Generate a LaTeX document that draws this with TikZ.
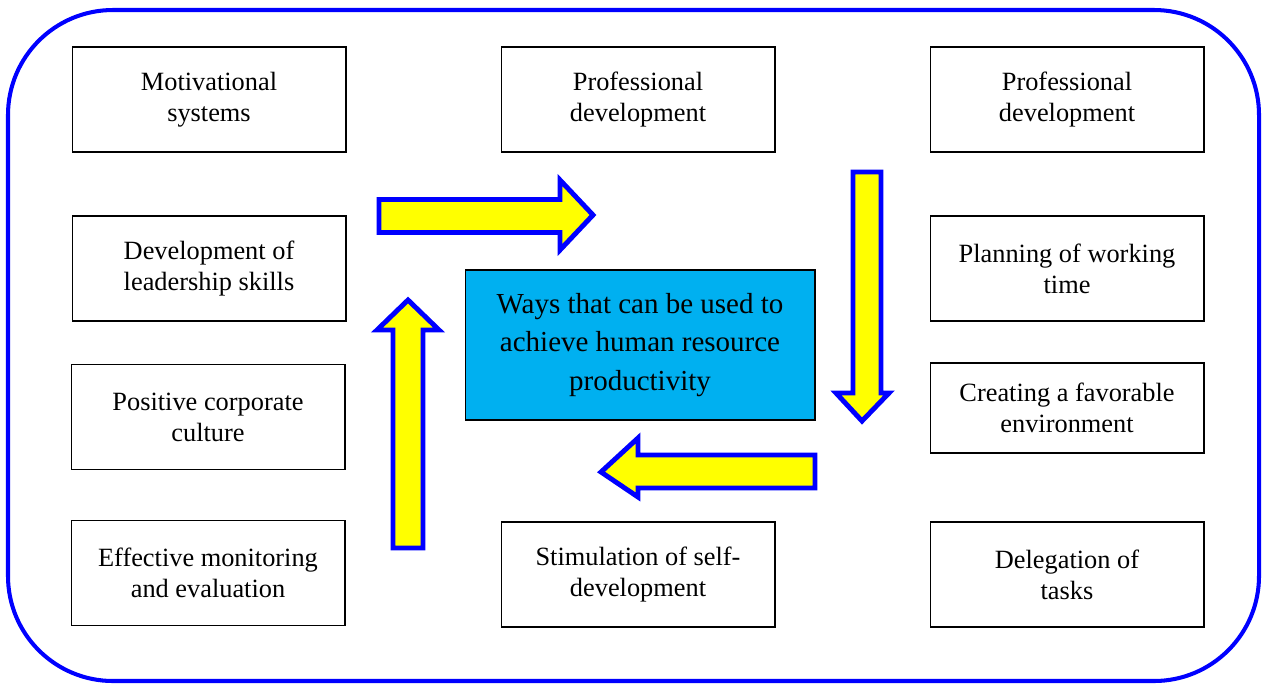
\documentclass[tikz,border=0pt]{standalone}
\usepackage{fontspec}
\setmainfont{Liberation Serif}
\definecolor{framebl}{RGB}{0,0,255}
\definecolor{centercy}{RGB}{0,176,240}
\definecolor{arrowyl}{RGB}{255,255,0}
\begin{document}
\begin{tikzpicture}
  [
  x=0.02cm,y=-0.02cm,
  way/.style={rectangle,draw,line width=0.6pt,minimum width=5.48cm,minimum height=2.1cm,
    align=center,font=\fontsize{15}{17.6}\selectfont,inner sep=2pt},
  goal/.style={rectangle,draw,line width=0.6pt,fill=centercy,minimum width=7cm,minimum height=3cm,
    align=center,font=\fontsize{16.5}{22}\selectfont},
  bigarrow/.style={draw=framebl,fill=arrowyl,line width=2.8pt,line join=miter}
  ]
  \useasboundingbox (0,0) rectangle (1266,684);
  \draw [framebl,line width=2.3pt,rounded corners=2.1cm] (8,10) rectangle (1259,681);

  \node (mot) at (209,99.5) [way] {Motivational\\systems};
  \node (lead) at (209,268.5) [way] {Development of\\leadership skills};
  \node (cult) at (208,417) [way] {Positive corporate\\culture};
  \node (monit) at (208,573) [way] {Effective monitoring\\and evaluation};

  \node (prof1) at (638,99.5) [way] {Professional\\development};
  \node (stim) at (638,574.5) [way] {Stimulation of self-\\development};

  \node (prof2) at (1067,99.5) [way] {Professional\\development};
  \node (plan) at (1067,268.5) [way] {Planning of working\\time};
  \node (env) at (1067,408) [way,minimum height=1.8cm] {Creating a favorable\\environment};
  \node (deleg) at (1067,574.5) [way] {Delegation of\\tasks};

  \node (goal) at (640,345) [goal] {Ways that can be used to\\achieve human resource\\productivity};

  % cycle arrows
  \draw [bigarrow] (379,199.5) -- (560,199.5) -- (560,180) -- (593,215) -- (560,250) -- (560,232.5) -- (379,232.5) -- cycle;
  \draw [bigarrow] (853,172) -- (881,172) -- (881,393) -- (889,393) -- (862,421) -- (836,393) -- (853,393) -- cycle;
  \draw [bigarrow] (815,455) -- (815,488) -- (638,488) -- (638,497) -- (601,472) -- (638,438) -- (638,455) -- cycle;
  \draw [bigarrow] (393,548) -- (393,330) -- (377,330) -- (408,300) -- (439,330) -- (423,330) -- (423,548) -- cycle;
\end{tikzpicture}
\end{document}
